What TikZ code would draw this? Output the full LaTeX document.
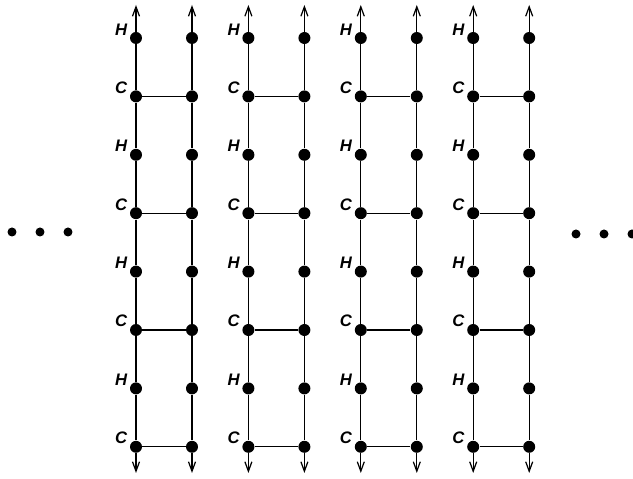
\documentclass[tikz,border=0pt]{standalone}
\usepackage{fontspec}
\setsansfont{Liberation Sans}
\usetikzlibrary{arrows.meta}
\tikzset{
  >={Straight Barb[length=1.9mm,width=1.4mm]},
  atom/.style={circle,fill=black,inner sep=0pt,minimum size=2.4mm},
  elldot/.style={circle,fill=black,inner sep=0pt,minimum size=1.8mm},
  bond/.style={line width=0.7pt},
  atomlbl/.style={font=\sffamily\bfseries\itshape\fontsize{9.5}{11}\selectfont,inner sep=0.5pt},
}

\begin{document}
\begin{tikzpicture}[x=0.02cm,y=-0.02cm]
  \useasboundingbox (0,0) rectangle (633,479);
  % ---- four ladder chains ----
  \foreach \i in {1,...,4} {
    \pgfmathsetmacro{\xl}{136+112.4*(\i-1)}
    \pgfmathsetmacro{\xr}{\xl+56}
    \coordinate (Lt\i) at (\xl,5);
    \coordinate (Rt\i) at (\xr,5);
    \coordinate (Lb\i) at (\xl,473);
    \coordinate (Rb\i) at (\xr,473);
    \foreach \j/\el in {1/H,2/C,3/H,4/C,5/H,6/C,7/H,8/C} {
      \pgfmathsetmacro{\yy}{38+58.4*(\j-1)}
      \node[atom,label={[atomlbl,label distance=0.8pt]168:\el}] (L\i\j) at (\xl,\yy) {};
      \node[atom] (R\i\j) at (\xr,\yy) {};
    }
    \draw[bond,->] (L\i1) -- (Lt\i);
    \draw[bond,->] (R\i1) -- (Rt\i);
    \draw[bond,->] (L\i8) -- (Lb\i);
    \draw[bond,->] (R\i8) -- (Rb\i);
    \foreach \j [evaluate=\j as \k using int(\j+1)] in {1,...,7} {
      \draw[bond] (L\i\j) -- (L\i\k);
      \draw[bond] (R\i\j) -- (R\i\k);
    }
    \foreach \j in {2,4,6,8}
      \draw[bond] (L\i\j) -- (R\i\j);
  }
  % ---- ellipses ----
  \foreach \x [count=\n] in {12,40,68}
    \node[elldot] (dl\n) at (\x,232) {};
  \foreach \x [count=\n] in {576,604,632}
    \node[elldot] (dr\n) at (\x,234) {};
\end{tikzpicture}
\end{document}
